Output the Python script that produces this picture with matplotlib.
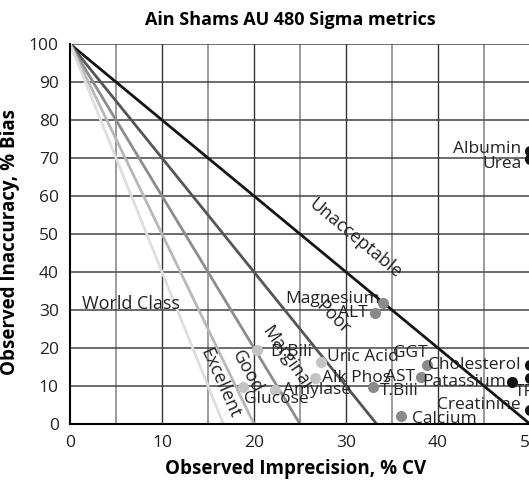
import numpy as np
import matplotlib
matplotlib.use("Agg")
import matplotlib.pyplot as plt

plt.rcParams['font.family'] = ['Open Sans', 'DejaVu Sans']

# sigma lines: bias + sigma*CV = 100
sigmas = [2, 3, 4, 5, 6]
line_colors = ['#151515', '#555555', '#8c8c8c', '#b8b8b8', '#dedede']

# tests (cv, bias)
tests = ["Albumin", "Urea", "Magnesium", "ALT", "D.Bili", "Uric Acid", "Alk Phos",
         "Amylase", "Glucose", "T.Bili", "GGT", "AST", "Cholesterol", "Patassium",
         "TP", "Creatinine", "Calcium"]
cv = [50, 50, 34.0, 33.2, 20.3, 27.3, 26.6, 22.3, 18.8, 32.9, 38.8, 38.2, 50, 48.0, 50, 50, 36.0]
bias = [71.9, 69.7, 31.8, 29.2, 19.5, 16.3, 12.1, 8.9, 9.7, 9.7, 15.5, 12.4, 15.5, 11.0, 12.2, 3.7, 2.1]

# label placement (pixels) and alignment
lab_dx = [-9, -8, -3, -8, 13, 6, 7, 8, 1, 7, 1, -6, -9, -5, -5, -9, 11]
lab_dy = [2, -5, 4, 0, -2, 5, 0, 0, -12, -4, 12, 0, 0, 0, -14, 5, -3]
lab_ha = ['right', 'right', 'right', 'right', 'left', 'left', 'left', 'left', 'left',
          'left', 'right', 'right', 'right', 'right', 'center', 'right', 'left']

zone_names = ["Excellent", "Good", "Marginal", "Poor", "Unacceptable"]
zone_x = [16.3, 19.3, 23.6, 28.6, 31.0]
zone_y = [10.8, 13.7, 17.4, 28.0, 48.9]
zone_c = [18.3, 22.5, 29.0, 41.7, 50.0]

def dot_color(x, y):
    s = (100 - y) / x
    if s < 2:
        return '#111111'
    if s < 3:
        return '#8a8a8a'
    return '#c4c4c4'

fig = plt.figure(figsize=(5.29, 4.82), dpi=100)
ax = fig.add_axes([70/529, 58/482, 460/529, 380/482])
ax.set_xlim(0, 50)
ax.set_ylim(0, 100)

# grid
for v in range(5, 50, 10):
    ax.axvline(v, color='#8a8a8a', lw=1.2, zorder=0)
for v in range(10, 51, 10):
    ax.axvline(v, color='#333333', lw=1.0, zorder=0)
for v in range(10, 101, 10):
    ax.axhline(v, color='#444444', lw=1.1, zorder=0)

for s, c in zip(sigmas, line_colors):
    x = np.array([0, 100 / s])
    ax.plot(x, 100 - s * x, color=c, lw=2.0, zorder=2, solid_capstyle='butt')

for name, x, y, c in zip(zone_names, zone_x, zone_y, zone_c):
    ang = np.degrees(np.arctan((100 * 3.8) / (c * 9.2)))
    ax.text(x, y, name, rotation=-ang, rotation_mode='anchor', ha='center', va='center',
            fontsize=13, color='#222222', zorder=3)
ax.text(1.3, 31.6, "World Class", ha='left', va='center', fontsize=13, color='#222222', zorder=3)

for name, x, y, dx, dy, ha in zip(tests, cv, bias, lab_dx, lab_dy, lab_ha):
    ax.plot(x, y, 'o', ms=8, color=dot_color(x, y), mec='none', zorder=4, clip_on=False)
    ax.annotate(name, (x, y), xytext=(dx, dy), textcoords='offset pixels', ha=ha, va='center',
                fontsize=12.5, color='#222222', zorder=5, annotation_clip=False)

ax.spines['top'].set_visible(False)
ax.spines['right'].set_visible(False)
ax.spines['left'].set_linewidth(1.5)
ax.spines['bottom'].set_linewidth(1.5)
ax.tick_params(length=0, labelsize=12.5, pad=8, colors='#222222')
ax.set_xticks(range(0, 51, 10))
ax.set_yticks(range(0, 101, 10))

ax.set_xlabel("Observed Imprecision, % CV", fontsize=13.5, fontweight='bold', labelpad=6, x=0.49)
ax.set_ylabel("Observed Inaccuracy, % Bias", fontsize=13.5, fontweight='bold')
ax.yaxis.set_label_coords(-0.108, 0.48)
ax.set_title("Ain Shams AU 480 Sigma metrics", fontsize=13, fontweight='bold', pad=14, x=0.478)

fig.savefig("out.png", dpi=100)
